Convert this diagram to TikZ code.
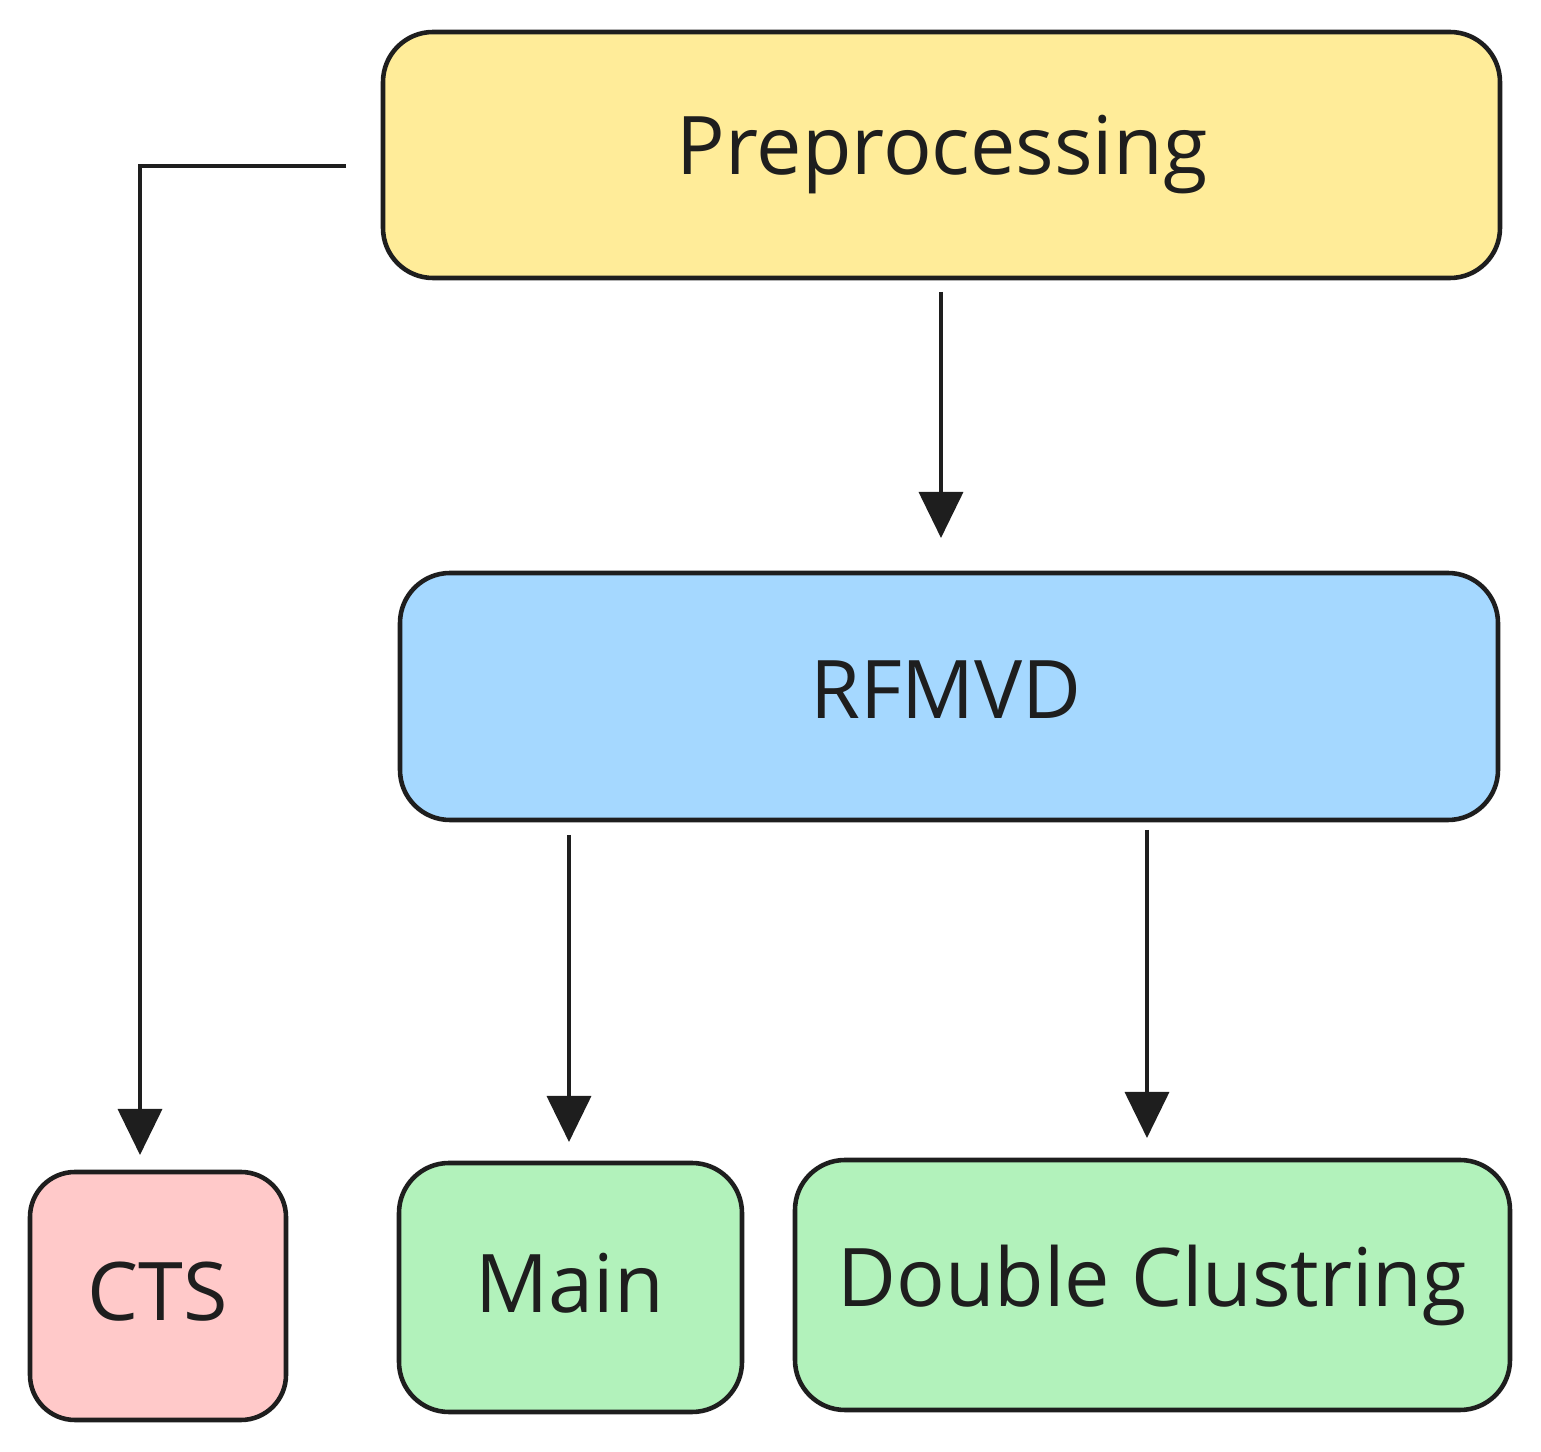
\documentclass[tikz,border=0pt]{standalone}
\usepackage{fontspec}
\setmainfont{Open Sans}
\usetikzlibrary{arrows.meta}
\definecolor{ink}{HTML}{1E1E1E}
\definecolor{cyellow}{HTML}{FFEC99}
\definecolor{cblue}{HTML}{A5D8FF}
\definecolor{cred}{HTML}{FFC9C9}
\definecolor{cgreen}{HTML}{B2F2BB}
\tikzset{
  box/.style={draw=ink, line width=1.3pt, rounded corners=0.5cm, inner sep=0pt},
  lbl/.style={text=ink, font=\fontsize{23}{28}\selectfont},
  conn/.style={draw=ink, line width=1pt, -{Triangle[width=0.44cm,length=0.46cm]}}
}
\begin{document}
\begin{tikzpicture}[x=0.01cm,y=-0.01cm]
\useasboundingbox (0,0) rectangle (1541,1452);
% boxes
\draw[box, fill=cyellow] (383,32) rectangle (1500,278);
\node[lbl] (pre) at (942,155) {Preprocessing};
\coordinate (preL) at (346,166);
\coordinate (preB) at (941,292);
\draw[box, fill=cblue] (400,573) rectangle (1498,820);
\node[lbl] (rf) at (946,690) {RFMVD};
\coordinate (rfT) at (941,538);
\coordinate (rfB1) at (569,835);
\coordinate (rfB2) at (1147,830);
\draw[box, fill=cred, rounded corners=0.45cm] (30,1172) rectangle (286,1420);
\node[lbl] (cts) at (158,1292) {CTS};
\coordinate (ctsT) at (140,1155);
\draw[box, fill=cgreen] (399,1163) rectangle (742,1412);
\node[lbl] (main) at (570,1283) {Main};
\coordinate (mainT) at (569,1142);
\draw[box, fill=cgreen] (795,1160) rectangle (1510,1410);
\node[lbl] (dc) at (1152,1285) {Double Clustring};
\coordinate (dcT) at (1147,1138);
% connectors
\draw[conn] (preL) -- (140,166) -- (ctsT);
\draw[conn] (preB) -- (rfT);
\draw[conn] (rfB1) -- (mainT);
\draw[conn] (rfB2) -- (dcT);
\end{tikzpicture}
\end{document}
